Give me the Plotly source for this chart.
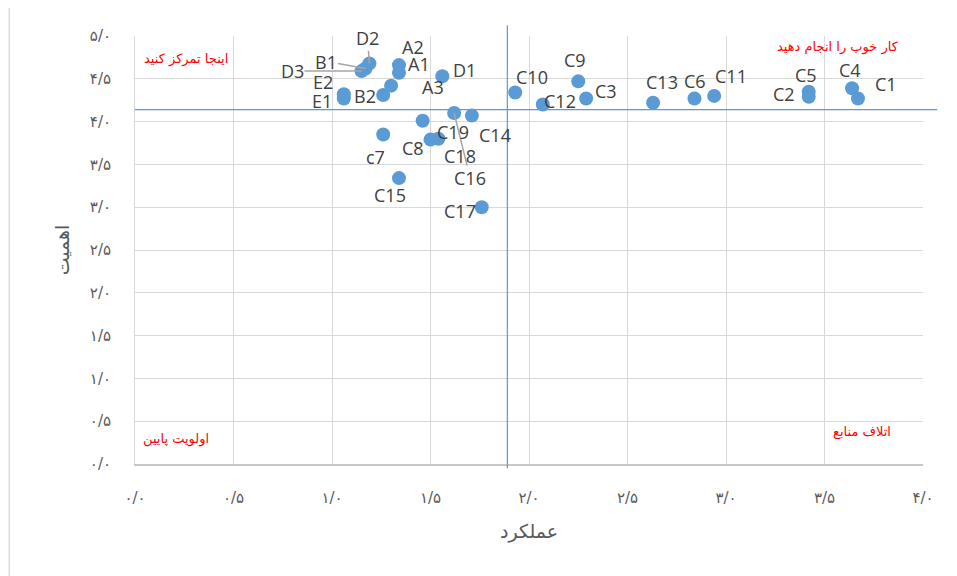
import plotly.graph_objects as go

# ---- data ----
labels = ["C1", "C2", "C3", "C4", "C5", "C6", "c7", "C8", "C9", "C10",
          "C11", "C12", "C13", "C14", "C15", "C16", "C17", "C18", "C19",
          "A1", "A2", "A3", "B1", "B2", "D1", "D2", "D3", "E1", "E2"]
performance = [3.67, 3.42, 2.29, 3.64, 3.42, 2.84, 1.26, 1.50, 2.25, 1.93,
               2.94, 2.07, 2.63, 1.71, 1.34, 1.62, 1.76, 1.54, 1.46,
               1.34, 1.34, 1.30, 1.17, 1.26, 1.56, 1.19, 1.15, 1.06, 1.06]
importance = [4.27, 4.29, 4.27, 4.39, 4.35, 4.27, 3.85, 3.79, 4.47, 4.34,
              4.30, 4.20, 4.22, 4.07, 3.34, 4.10, 3.00, 3.80, 4.01,
              4.57, 4.66, 4.42, 4.62, 4.31, 4.53, 4.68, 4.59, 4.27, 4.32]
x_mean = 1.89
y_mean = 4.14

x_ticks = [0, 0.5, 1, 1.5, 2, 2.5, 3, 3.5, 4]
x_ticktext = ["۰/۰", "۰/۵", "۱/۰", "۱/۵", "۲/۰", "۲/۵", "۳/۰", "۳/۵", "۴/۰"]
y_ticks = [0, 0.5, 1, 1.5, 2, 2.5, 3, 3.5, 4, 4.5, 5]
y_ticktext = ["۰/۰", "۰/۵", "۱/۰", "۱/۵", "۲/۰", "۲/۵", "۳/۰", "۳/۵", "۴/۰", "۴/۵", "۵/۰"]

quadrant_text = ["اینجا تمرکز کنید", "کار خوب را انجام دهید", "اولویت پایین", "اتلاف منابع"]
quadrant_x = [0.26, 3.57, 0.21, 3.69]
quadrant_y = [4.73, 4.87, 0.29, 0.37]

# label offsets in pixels (dx right, dy down) and leader flag -- style only
label_style = {
    "C1": (28, -14, False), "C2": (-25, -3, False), "C3": (20, -7, False),
    "C4": (-2, -18, False), "C5": (-3, -17, False), "C6": (1, -17, False),
    "c7": (-8, 23, False), "C8": (-18, 8, False), "C9": (-3, -21, False),
    "C10": (17, -16, False), "C11": (17, -20, False), "C12": (17, -3, False),
    "C13": (9, -21, False), "C14": (23, 19, False), "C15": (-9, 17, False),
    "C16": (16, 65, True), "C17": (-22, 4, False), "C18": (22, 17, False),
    "C19": (30, 11, False), "A1": (20, -9, False), "A2": (14, -18, False),
    "A3": (42, 1, False), "B1": (-39, -7, True), "B2": (-18, 1, False),
    "D1": (22, -6, False), "D2": (-2, -25, True), "D3": (-69, 0, True),
    "E1": (-22, 3, False), "E2": (-21, -12, False),
}

blue = "#5B9BD5"
grid = "#D9D9D9"
txt = "#404040"
tick_col = "#595959"

fig = go.Figure()
fig.add_trace(go.Scatter(
    x=performance, y=importance, mode="markers",
    marker=dict(color=blue, size=14, line=dict(width=0)),
    hoverinfo="text", text=labels, showlegend=False,
))

annotations = []
for lab, xv, yv in zip(labels, performance, importance):
    dx, dy, leader = label_style[lab]
    if leader:
        annotations.append(dict(
            x=xv, y=yv, xref="x", yref="y", text=lab, showarrow=True,
            ax=dx, ay=dy, arrowhead=0, arrowwidth=1.5, arrowcolor="#A6A6A6",
            standoff=0, startstandoff=0, borderpad=0,
            font=dict(family="Open Sans", size=18, color=txt)))
    else:
        annotations.append(dict(
            x=xv, y=yv, xref="x", yref="y", text=lab, showarrow=False,
            xshift=dx, yshift=-dy, xanchor="center", yanchor="middle",
            borderpad=0,
            font=dict(family="Open Sans", size=18, color=txt)))

for t, xv, yv in zip(quadrant_text, quadrant_x, quadrant_y):
    annotations.append(dict(
        x=xv, y=yv, xref="x", yref="y", text=t, showarrow=False,
        xanchor="center", yanchor="middle",
        font=dict(family="DejaVu Sans", size=13, color="#FF0000")))

fig.update_layout(
    width=957, height=576,
    margin=dict(l=127, r=42, t=28, b=120, autoexpand=False),
    paper_bgcolor="white", plot_bgcolor="white",
    annotations=annotations,
    shapes=[
        dict(type="line", xref="x", yref="paper", x0=x_mean, x1=x_mean,
             y0=-0.01, y1=1.025, line=dict(color=blue, width=1.2)),
        dict(type="line", xref="paper", yref="y", x0=0, x1=1.018,
             y0=y_mean, y1=y_mean, line=dict(color=blue, width=1.2)),
        dict(type="line", xref="paper", yref="paper", x0=-0.1595, x1=-0.1595,
             y0=-0.3, y1=1.1, line=dict(color=grid, width=1.5)),
    ],
    xaxis=dict(
        range=[0, 4], tickvals=x_ticks, ticktext=x_ticktext, automargin=False,
        showgrid=True, gridcolor=grid, gridwidth=1, zeroline=False,
        showline=True, linecolor="#C8C8C8", linewidth=1.5, mirror=False,
        ticks="", ticklabelstandoff=19,
        tickfont=dict(family="DejaVu Sans", size=15, color=tick_col),
        title=dict(text="عملکرد", standoff=19,
                   font=dict(family="DejaVu Sans", size=19, color=tick_col)),
    ),
    yaxis=dict(
        range=[0, 5], tickvals=y_ticks, ticktext=y_ticktext, automargin=False,
        showgrid=True, gridcolor=grid, gridwidth=1, zeroline=False,
        showline=True, linecolor=grid, linewidth=1, mirror=False,
        ticks="", ticklabelstandoff=20,
        tickfont=dict(family="DejaVu Sans", size=15, color=tick_col),
        title=dict(text="اهمیت", standoff=15,
                   font=dict(family="DejaVu Sans", size=19, color=tick_col)),
    ),
)

fig.write_html("out.html")
